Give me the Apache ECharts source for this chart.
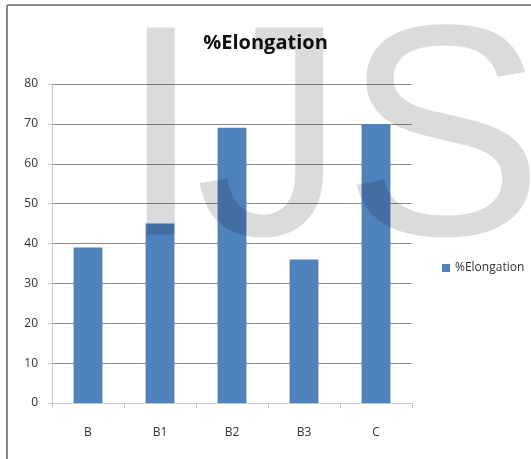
<!DOCTYPE html>
<html>
<head>
<meta charset="utf-8">
<script src="https://cdn.jsdelivr.net/npm/echarts@6/dist/echarts.min.js"></script>
<style>
html, body { margin: 0; padding: 0; background: #fff; }
#chart { width: 531px; height: 459px; }
</style>
</head>
<body>
<div id="chart"></div>
<script>
// data
var categories = ['B', 'B1', 'B2', 'B3', 'C'];
var elongation = [39, 45, 69, 36, 70];
var yTicks = [0, 10, 20, 30, 40, 50, 60, 70, 80];

var myChart = echarts.init(document.getElementById('chart'));

// watermark letters over the chart
function mark(ch, x) {
    return {
        type: 'text',
        left: x,
        top: 1,
        z: 100,
        silent: true,
        style: { text: ch, font: '301px "Liberation Sans"', fill: 'rgba(0,0,0,0.14)' }
    };
}

var option = {
    animation: false,
    backgroundColor: '#fff',
    title: {
        text: '%Elongation',
        left: 'center',
        top: 28,
        textStyle: { fontFamily: 'Open Sans', fontSize: 20, fontWeight: 'bold', color: '#111' }
    },
    legend: {
        data: [{ name: '%Elongation', icon: 'rect' }],
        orient: 'vertical',
        left: 437,
        top: 257,
        itemWidth: 8,
        itemHeight: 8,
        itemGap: 4,
        textStyle: { fontFamily: 'Open Sans', fontSize: 12, color: '#333' }
    },
    grid: { left: 52, top: 84, width: 360, height: 319 },
    xAxis: {
        type: 'category',
        data: categories,
        axisLine: { lineStyle: { color: '#c8c8c8' } },
        axisTick: { show: true, length: 5, lineStyle: { color: '#c8c8c8' } },
        axisLabel: { margin: 24, fontFamily: 'Open Sans', fontSize: 12, color: '#333' }
    },
    yAxis: {
        type: 'value',
        min: yTicks[0],
        max: yTicks[yTicks.length - 1],
        interval: 10,
        axisLine: { show: true, lineStyle: { color: '#c8c8c8' } },
        axisTick: { show: true, length: 4, lineStyle: { color: '#c8c8c8' } },
        axisLabel: { margin: 14, fontFamily: 'Open Sans', fontSize: 12, color: '#333' },
        splitLine: { lineStyle: { color: '#8c8c8c' } }
    },
    series: [{
        name: '%Elongation',
        type: 'bar',
        data: elongation,
        barWidth: '40%',
        itemStyle: { color: '#4f81bd' }
    }],
    graphic: [
        // frame of the figure
        { type: 'line', shape: { x1: 7, y1: 5, x2: 7, y2: 470 }, style: { stroke: '#8a8a8a', lineWidth: 2 } },
        { type: 'line', shape: { x1: 7, y1: 5, x2: 540, y2: 5 }, style: { stroke: '#8a8a8a', lineWidth: 2 } },
        mark('I', 119),
        mark('J', 195),
        mark('S', 343)
    ]
};

myChart.setOption(option);
</script>
</body>
</html>
